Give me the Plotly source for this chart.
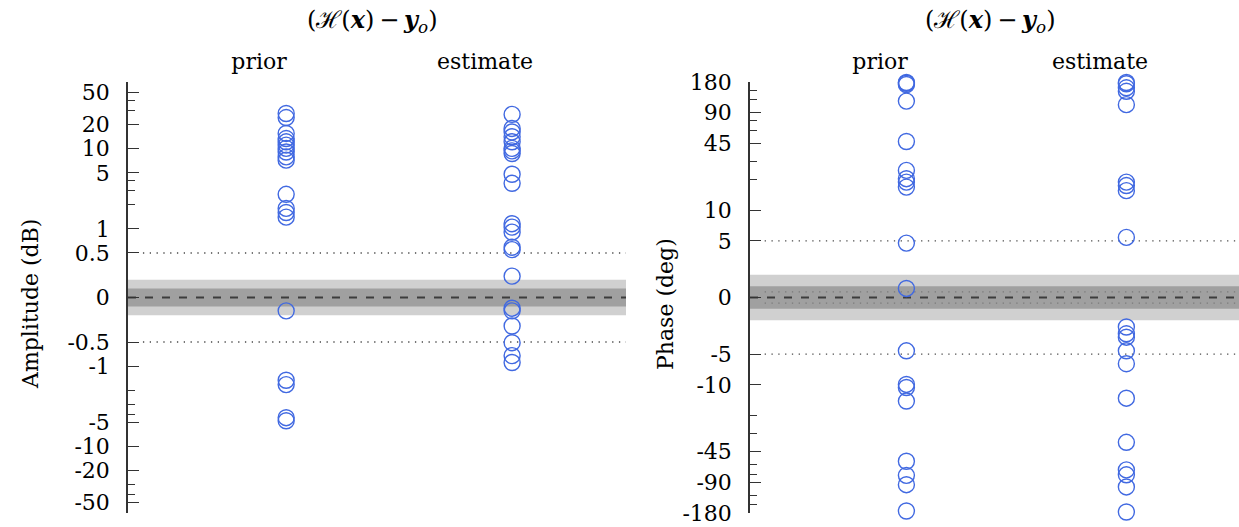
import numpy as np
import plotly.graph_objects as go

# ---------------------------------------------------------------- data
categories = ["prior", "estimate"]

amp_prior = [27.5, 24.5, 15.5, 13.4, 12.2, 11.1, 10.1, 9.1, 7.9, 7.2, 2.7, 1.8, 1.6, 1.4,
             -0.15, -1.5, -1.7, -4.4, -4.8]
amp_estimate = [26.8, 17.9, 16.2, 14.1, 12.2, 10.1, 9.4, 8.7, 4.8, 3.7, 1.16, 1.05, 0.91,
                0.59, 0.55, 0.24, -0.12, -0.15, -0.32, -0.51, -0.74, -0.90]
phase_prior = [178, 175, 170, 117, 47, 24.5, 20.3, 18.8, 16.8, 4.8, 0.8,
               -4.7, -9.9, -10.6, -14.4, -56, -77, -95, -172]
phase_estimate = [178, 173, 158, 146, 108, 18.8, 17.4, 15.5, 5.4,
                  -2.6, -3.2, -3.5, -4.7, -6.2, -13.5, -36.5, -68, -76, -100, -176]

amp_major_ticks = [-50, -20, -10, -5, -1, -0.5, 0, 0.5, 1, 5, 10, 20, 50]
amp_minor_ticks = [-40, -30, -4, -3, -2, 2, 3, 4, 30, 40]
phase_major_ticks = [-180, -90, -45, -10, -5, 0, 5, 10, 45, 90, 180]
phase_minor_ticks = [-150, -120, -75, -60, -30, -20, 20, 30, 60, 75, 120, 150]

amp_linthresh, amp_limit = 0.5, 68
phase_linthresh, phase_limit = 5, 180
amp_tolerance = [0.1, 0.2]        # dark / light band half-widths (dB)
phase_tolerance = [1, 2]          # dark / light band half-widths (deg)
amp_dotted = [-0.5, 0.5]
phase_dotted = [-5, 5]
phase_fine_dotted = [-0.5, 0.5]


def symlog(v, lin, linscale=0.5, base=10.0):
    """Symmetric log transform (linear inside +/-lin, log outside)."""
    v = np.asarray(v, dtype=float)
    adj = linscale / (1.0 - 1.0 / base)
    a = np.abs(v)
    logpart = np.sign(v) * (adj + np.log10(np.maximum(a, lin) / lin))
    return np.where(a <= lin, v / lin * adj, logpart)


def fmt(t):
    return f"{t:g}"


# ---------------------------------------------------------------- layout geometry
W, H = 1239, 527
px_x = lambda p: p / W
px_y = lambda p: 1 - p / H

FONT = "DejaVu Serif"
BLUE = "#4169E1"
offset = 0.12

fig = go.Figure()

panels = [
    dict(x="x", y="y", lin=amp_linthresh, lim=amp_limit, prior=amp_prior, est=amp_estimate,
         major=amp_major_ticks, minor=amp_minor_ticks, tol=amp_tolerance, dotted=amp_dotted,
         fine=[], dom=[px_x(128), px_x(626)], xr=[-0.58, 1.624], title="Amplitude (dB)",
         title_x=30, head_x=372),
    dict(x="x2", y="y2", lin=phase_linthresh, lim=phase_limit, prior=phase_prior,
         est=phase_estimate, major=phase_major_ticks, minor=phase_minor_ticks,
         tol=phase_tolerance, dotted=phase_dotted, fine=phase_fine_dotted,
         dom=[px_x(750), 1.0], xr=[-0.591, 1.632], title="Phase (deg)", title_x=665,
         head_x=990),
]

shapes = []
annotations = []
for i, p in enumerate(panels):
    sfx = "" if i == 0 else str(i + 1)
    xref, yref = p["x"], p["y"]
    lin = p["lin"]
    for ci, vals in enumerate([p["prior"], p["est"]]):
        fig.add_trace(go.Scatter(
            x=[ci + offset] * len(vals), y=symlog(vals, lin),
            mode="markers", xaxis=xref, yaxis=yref, showlegend=False, cliponaxis=False,
            marker=dict(symbol="circle-open", size=16, color=BLUE, line=dict(width=1.4)),
        ))

    dark, light = p["tol"]
    for half, col in [(light, "#d0d0d0"), (dark, "#a0a0a0")]:
        shapes.append(dict(type="rect", xref=f"{xref} domain", yref=yref, x0=0, x1=1,
                           y0=float(symlog(-half, lin)), y1=float(symlog(half, lin)),
                           fillcolor=col, line=dict(width=0), layer="below"))
    for v in p["fine"]:
        yv = float(symlog(v, lin))
        shapes.append(dict(type="line", xref=f"{xref} domain", yref=yref, x0=0.03, x1=1,
                           y0=yv, y1=yv,
                           line=dict(color="#7a7a7a", width=1.3, dash="1.3px,5.5px"),
                           layer="below"))
    for v in p["dotted"]:
        yv = float(symlog(v, lin))
        shapes.append(dict(type="line", xref=f"{xref} domain", yref=yref, x0=0.03, x1=1,
                           y0=yv, y1=yv,
                           line=dict(color="#4a4a4a", width=1.3, dash="1.3px,5.5px"),
                           layer="below"))
    shapes.append(dict(type="line", xref=f"{xref} domain", yref=yref, x0=0.0, x1=1,
                       y0=0, y1=0, line=dict(color="#3c3c3c", width=1.8, dash="8px,9px"),
                       layer="below"))

    lim = float(symlog(p["lim"], lin))
    fig.update_layout(**{
        f"xaxis{sfx}": dict(
            domain=p["dom"], range=p["xr"], side="top", anchor=yref, automargin=False,
            tickmode="array", tickvals=[0, 1], ticktext=categories,
            ticks="", showline=False, showgrid=False, zeroline=False,
            ticklabelstandoff=8, tickfont=dict(family=FONT, size=22, color="black"),
        ),
        f"yaxis{sfx}": dict(
            domain=[px_y(513), px_y(82)], range=[-lim, lim], anchor=xref, automargin=False,
            tickmode="array", tickvals=symlog(p["major"], lin).tolist(),
            ticktext=[fmt(t) for t in p["major"]],
            ticks="inside", ticklen=11, tickwidth=1, tickcolor="#333333",
            minor=dict(tickmode="array", tickvals=symlog(p["minor"], lin).tolist(),
                       ticks="inside", ticklen=7, tickwidth=1, tickcolor="#333333"),
            showline=True, linecolor="#333333", linewidth=1.5,
            showgrid=False, zeroline=False, ticklabelstandoff=12,
            tickfont=dict(family=FONT, size=22, color="black"),
        ),
    })

    annotations.append(dict(
        text=p["title"], textangle=-90, xref="paper", yref="paper",
        x=px_x(p["title_x"]), y=px_y(304), xanchor="center", yanchor="middle",
        showarrow=False, font=dict(family=FONT, size=22, color="black"),
    ))
    annotations.append(dict(
        text="(ℋ(<b><i>x</i></b>)\u2009−\u2009<b><i>y</i></b><sub><i>o</i></sub>)",
        xref="paper", yref="paper", x=px_x(p["head_x"]), y=px_y(21),
        xanchor="center", yanchor="middle", showarrow=False,
        font=dict(family=FONT, size=24, color="black"),
    ))

fig.update_layout(
    width=W, height=H,
    margin=dict(l=0, r=0, t=0, b=0, pad=0),
    paper_bgcolor="white", plot_bgcolor="white",
    shapes=shapes, annotations=annotations,
    font=dict(family=FONT, size=22, color="black"),
)

fig.write_html("out.html")
